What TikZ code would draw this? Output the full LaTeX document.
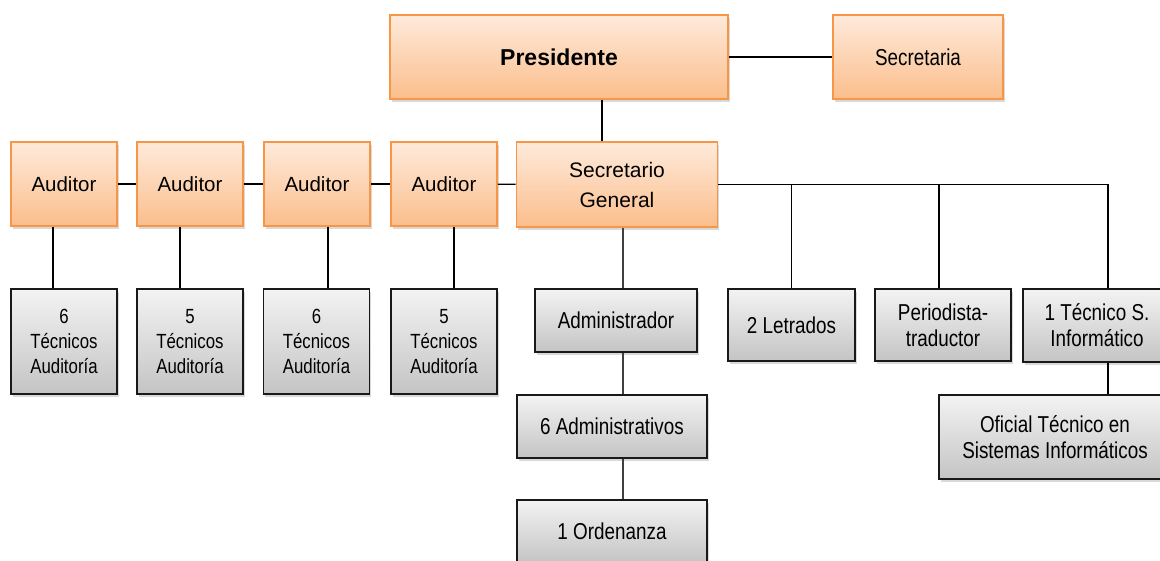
\documentclass[tikz,border=0pt]{standalone}
\usepackage{fontspec}
\setmainfont{Liberation Sans}
\newfontfamily\narrowfont[FakeStretch=0.82]{Liberation Sans}
\usetikzlibrary{shadows}
\definecolor{boxorange}{RGB}{247,150,70}
\definecolor{orangetop}{RGB}{254,234,219}
\definecolor{orangebot}{RGB}{251,190,140}
\definecolor{graytop}{RGB}{243,243,243}
\definecolor{graybot}{RGB}{196,196,196}

\begin{document}
\begin{tikzpicture}[x=1pt,y=-1pt,
  orangebox/.style={draw=boxorange,line width=1.6pt,top color=orangetop,bottom color=orangebot,
    inner sep=0pt,align=center,font=\fontsize{20.5}{30}\selectfont,
    drop shadow={shadow xshift=1.5pt,shadow yshift=-2.5pt,opacity=0.3}},
  graybox/.style={draw=black!90,line width=1.8pt,top color=graytop,bottom color=graybot,
    inner sep=0pt,align=center,font=\narrowfont\fontsize{23}{26}\selectfont,
    drop shadow={shadow xshift=1.5pt,shadow yshift=-2.5pt,opacity=0.3}},
  tecbox/.style={graybox,minimum width=106,minimum height=105,font=\narrowfont\fontsize{20.5}{25}\selectfont},
  audbox/.style={orangebox,minimum width=106,minimum height=84},
  link/.style={line width=1.2pt}]
\useasboundingbox (0,0) rectangle (1160,560);

% top row
\node[orangebox,minimum width=338,minimum height=84,font=\bfseries\fontsize{23}{28}\selectfont] (pres) at (559,57) {Presidente};
\node[orangebox,minimum width=170,minimum height=84,font=\narrowfont\fontsize{23}{28}\selectfont] (secr) at (918,57) {Secretaria};

% auditors and secretario general
\node[audbox] (aud1) at (64,184) {Auditor};
\node[audbox] (aud2) at (190,184) {Auditor};
\node[audbox] (aud3) at (317,184) {Auditor};
\node[audbox] (aud4) at (444,184) {Auditor};
\node[orangebox,minimum width=201,minimum height=85,font=\fontsize{21}{30}\selectfont] (sg) at (617,184.5) {Secretario\\General};

% technicians
\node[tecbox] (tec1) at (64,341.5) {6\\Técnicos\\Auditoría};
\node[tecbox] (tec2) at (190,341.5) {5\\Técnicos\\Auditoría};
\node[tecbox] (tec3) at (316.5,341.5) {6\\Técnicos\\Auditoría};
\node[tecbox] (tec4) at (444,341.5) {5\\Técnicos\\Auditoría};

% administration
\node[graybox,minimum width=162,minimum height=63] (adm) at (616,320.5) {Administrador};
\node[graybox,minimum width=190,minimum height=63] (adms) at (612,426.5) {6 Administrativos};
\node[graybox,minimum width=190,minimum height=63] (ord) at (612,531.5) {1 Ordenanza};

% other staff
\node[graybox,minimum width=127,minimum height=72] (letr) at (791.5,325) {2 Letrados};
\node[graybox,minimum width=136,minimum height=72] (peri) at (943,325) {Periodista-\\traductor};
\node[graybox,minimum width=148,minimum height=73] (tecs) at (1097,325.5) {1 Técnico S.\\Informático};
\node[graybox,minimum width=232,minimum height=84] (ofi) at (1055,437) {Oficial Técnico en\\Sistemas Informáticos};

% connectors
\draw[link] (pres.east) -- (secr.west);
\draw[link] ([xshift=43]pres.south) -- ([xshift=43]pres.south |- sg.north);
\foreach \a/\b in {aud1/aud2,aud2/aud3,aud3/aud4,aud4/sg}
  \draw[link] (\a) -- (\b);
\foreach \i/\d in {1/-11,2/-10,3/11,4/10}
  \draw[link] ([xshift=\d]aud\i.south) -- ([xshift=\d]aud\i.south |- tec\i.north);

\coordinate (busend) at ([xshift=11]tecs.north |- sg.east);
\draw[link] (sg.east) -- (busend) -- ([xshift=11]tecs.north);
\draw[link] (letr.north |- sg.east) -- (letr.north);
\draw[link] ([xshift=-4]peri.north |- sg.east) -- ([xshift=-4]peri.north);
\draw[link] ([xshift=11]tecs.south) -- ([xshift=11]tecs.south |- ofi.north);

\draw[link,black!75] ([xshift=6]sg.south) -- ([xshift=6]sg.south |- adm.north);
\draw[link,black!75] ([xshift=7]adm.south) -- ([xshift=7]adm.south |- adms.north);
\draw[link,black!75] ([xshift=11]adms.south) -- ([xshift=11]adms.south |- ord.north);
\end{tikzpicture}
\end{document}
